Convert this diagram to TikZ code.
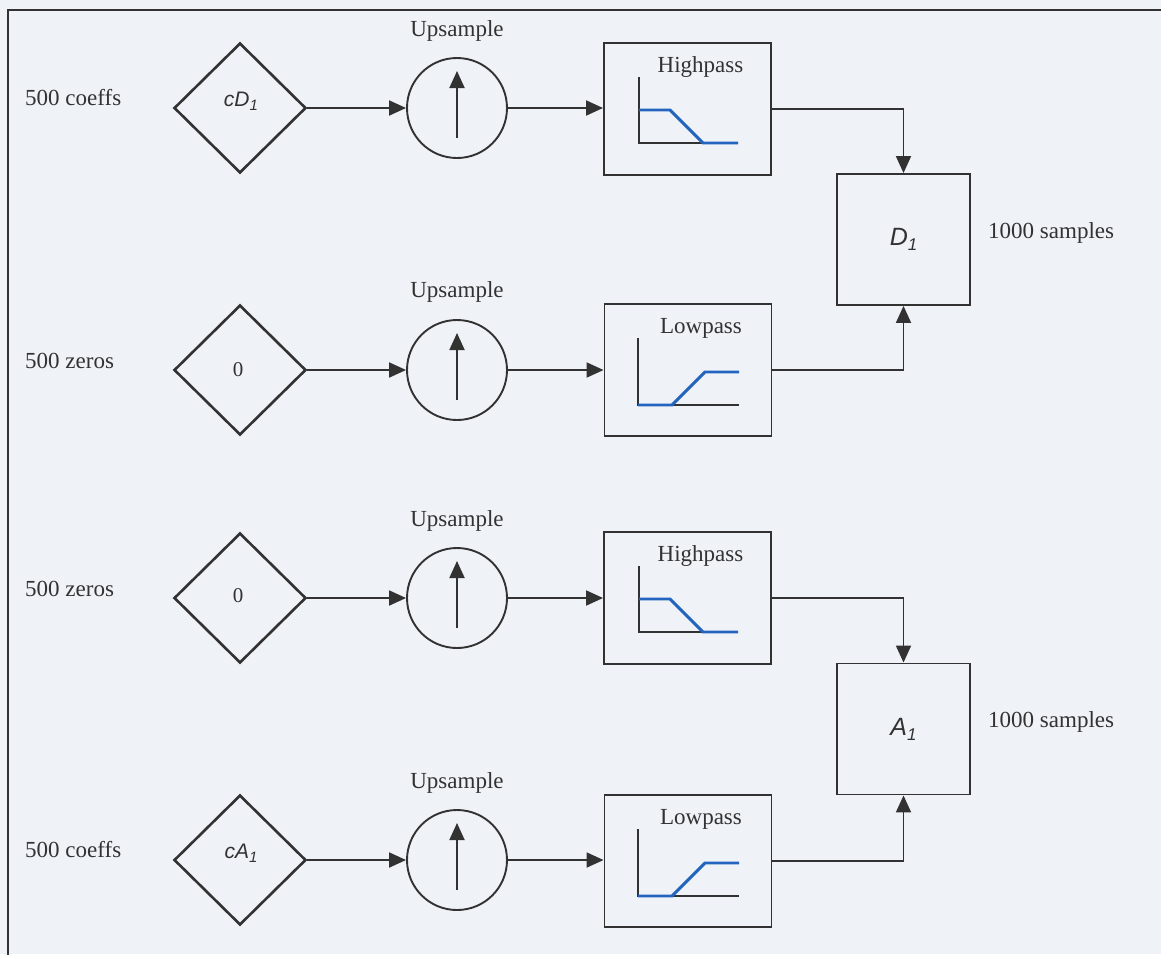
\documentclass[tikz,border=0pt]{standalone}
\usepackage{fontspec}
\setmainfont{Liberation Serif}
\newfontfamily\arialf{Liberation Sans}
\usetikzlibrary{shapes.geometric,arrows.meta,calc}
\definecolor{bgc}{RGB}{239,242,247}
\definecolor{ln}{RGB}{50,50,50}
\definecolor{bluec}{RGB}{35,100,190}
\tikzset{
  txt/.style={font=\fontsize{23}{27}\selectfont, text=ln, inner sep=0pt},
  sans/.style={font=\arialf\itshape\fontsize{21}{24}\selectfont, text=ln, inner sep=0pt},
  dia/.style={diamond, draw=ln, line width=2.6pt, minimum width=132pt, minimum height=130pt, inner sep=0pt},
  upc/.style={circle, draw=ln, line width=1.9pt, minimum size=100pt, inner sep=0pt},
  fbox/.style={rectangle, draw=ln, line width=1.9pt, minimum width=167pt, minimum height=132pt, inner sep=0pt},
  obox/.style={rectangle, draw=ln, line width=1.9pt, minimum width=133pt, minimum height=131pt, inner sep=0pt, font=\arialf\itshape\fontsize{25}{28}\selectfont, text=ln},
  arr/.style={draw=ln, line width=1.9pt, -{Triangle[length=17pt,width=15pt]}},
  axisl/.style={draw=ln, line width=1.7pt},
  bl/.style={draw=bluec, line width=2.9pt},
}
\begin{document}
\begin{tikzpicture}[x=1pt,y=-1pt]
\useasboundingbox (0,0) rectangle (1161,954);
\fill[bgc] (0,0) rectangle (1161,954);
\begin{scope}
\clip (0,0) rectangle (1161,954);
\draw[ln, line width=1.9pt] (8,10) rectangle (1200,1000);
\end{scope}

% Row 1
\node[dia] (d1) at (240,108) {};
\node[upc] (u1) at (457,108) {};
\node[fbox] (f1) at (687.5,109) {};
% Row 2
\node[dia] (d2) at (240,370) {};
\node[upc] (u2) at (457,370) {};
\node[fbox] (f2) at (688,370) {};
% Row 3
\node[dia] (d3) at (240,598) {};
\node[upc] (u3) at (457,598) {};
\node[fbox] (f3) at (687.5,598) {};
% Row 4
\node[dia] (d4) at (240,860) {};
\node[upc] (u4) at (457,860) {};
\node[fbox] (f4) at (688,861) {};

% output boxes
\node[obox] (D) at (903.5,239.5) {D\raisebox{-5pt}{\fontsize{17}{19}\selectfont 1}};
\node[obox] (A) at (903.5,729) {A\raisebox{-5pt}{\fontsize{17}{19}\selectfont 1}};

% diamond texts
\node[sans] (t1) at (241,101) {cD\raisebox{-4pt}{\fontsize{15}{17}\selectfont 1}};
\node[txt, font=\fontsize{21}{25}\selectfont] (t2) at (238,370) {0};
\node[txt, font=\fontsize{21}{25}\selectfont] (t3) at (238,596) {0};
\node[sans] (t4) at (241,853) {cA\raisebox{-4pt}{\fontsize{15}{17}\selectfont 1}};

% left labels
\node[txt, anchor=base west] (l1) at (25,105) {500 coeffs};
\node[txt, anchor=base west] (l2) at (25,368) {500 zeros};
\node[txt, anchor=base west] (l3) at (25,596) {500 zeros};
\node[txt, anchor=base west] (l4) at (25,857) {500 coeffs};

% right labels
\node[txt, anchor=base west] (r1) at (988,238) {1000 samples};
\node[txt, anchor=base west] (r2) at (988,727) {1000 samples};

% Upsample labels
\node[txt] (s1) at (457,31) {Upsample};
\node[txt] (s2) at (457,292) {Upsample};
\node[txt] (s3) at (457,521) {Upsample};
\node[txt] (s4) at (457,783) {Upsample};

% filter labels
\node[txt] (h1) at ($(f1.center)+(13,-42)$) {Highpass};
\node[txt] (h2) at ($(f2.center)+(13,-42)$) {Lowpass};
\node[txt] (h3) at ($(f3.center)+(13,-42)$) {Highpass};
\node[txt] (h4) at ($(f4.center)+(13,-42)$) {Lowpass};

% up arrows inside circles
\foreach \n in {u1,u2,u3,u4}{
  \draw[arr] ($(\n.center)+(0,30)$) -- ($(\n.center)+(0,-37)$);
}

% highpass graphs
\foreach \n in {f1,f3}{
\begin{scope}[shift={(\n.center)}]
  \draw[axisl] (-48.5,-32) -- (-48.5,34) -- (50.5,34);
  \draw[bl] (-48.5,1) -- (-17.5,1) -- (15.5,34) -- (50.5,34);
\end{scope}
}
% lowpass graphs
\foreach \n in {f2,f4}{
\begin{scope}[shift={(\n.center)}]
  \draw[axisl] (-50,-32) -- (-50,35) -- (51,35);
  \draw[bl] (-50,35) -- (-16,35) -- (17,2) -- (51,2);
\end{scope}
}

% connectors
\foreach \i in {1,2,3,4}{
  \draw[arr] (d\i.east) -- (u\i.west);
  \draw[arr] (u\i.east) -- (f\i.west |- u\i.east);
}
\draw[arr] (f1.east) -| (D.north);
\draw[arr] (f2.east) -| (D.south);
\draw[arr] (f3.east) -| (A.north);
\draw[arr] (f4.east) -| (A.south);
\end{tikzpicture}
\end{document}
